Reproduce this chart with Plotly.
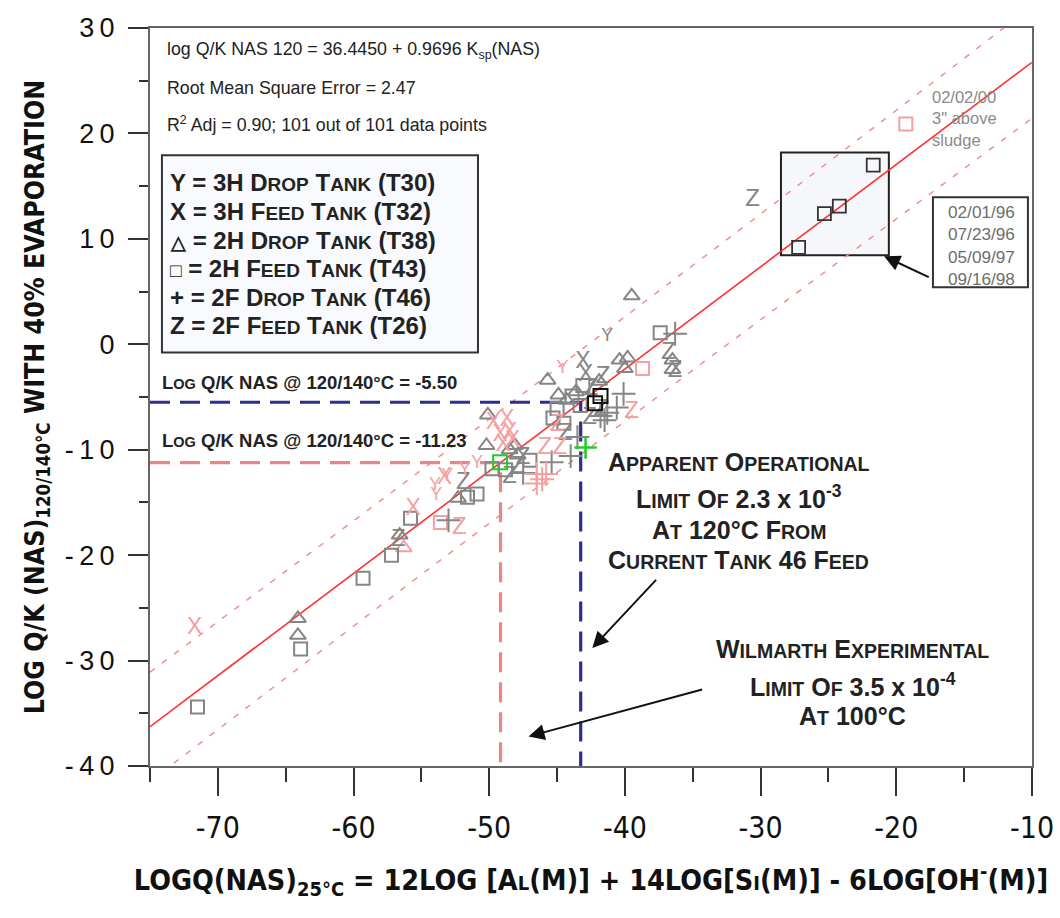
import numpy as np
import plotly.graph_objects as go

# ---------------- regression summary ----------------
fit_intercept = 36.4450
fit_slope = 0.9696
fit_rmse = 2.47
limit_apparent = -5.50     # log Q/K NAS @ 120/140 C, apparent operational limit
limit_wilmarth = -11.23    # log Q/K NAS @ 120/140 C, Wilmarth experimental limit

# ---------------- sample data (x = log Q 25C, y = log Q/K 120/140C) ----------------
# T30 : 3H drop tank  (Y)
t30_grey_x = [-41.3]
t30_grey_y = [0.7]
t30_pink_x = [-54.0, -53.9, -53.1, -50.9, -44.6, -51.8]
t30_pink_y = [-13.4, -14.3, -12.5, -11.3, -2.3, -12.0]

# T32 : 3H feed tank  (X)
t32_grey_x = [-43.1, -42.9]
t32_grey_y = [-1.7, -2.9]
t32_pink_x = [-71.7, -55.6, -53.3, -49.7, -49.2, -48.7, -48.5, -49.0, -48.3]
t32_pink_y = [-26.9, -15.6, -12.7, -7.5, -8.6, -7.2, -8.4, -9.6, -9.2]

# T38 : 2H drop tank  (triangle)
t38_grey_x = [-64.1, -64.1, -56.6, -52.3, -50.1, -50.2, -45.7, -40.4, -39.8, -40.0,
              -39.5, -36.5, -44.3, -47.9, -48.5, -41.9, -43.6, -36.5, -44.9, -48.1]
t38_grey_y = [-26.0, -27.6, -18.1, -14.6, -6.7, -9.6, -3.4, -1.5, -1.3, -2.3,
              4.6, -1.5, -5.3, -10.5, -10.0, -3.5, -4.5, -2.4, -4.8, -9.6]
t38_pink_x = [-56.3]
t38_pink_y = [-19.3]

# T43 : 2H feed tank  (square)
t43_grey_x = [-71.5, -63.9, -59.3, -57.2, -55.8, -51.6, -50.9, -49.8, -48.8, -43.1,
              -37.4, -45.0, -44.5, -43.9, -47.0, -45.3, -43.3]
t43_grey_y = [-34.4, -28.9, -22.2, -20.0, -16.5, -14.5, -14.2, -11.8, -11.9, -3.9,
              1.1, -6.1, -7.5, -4.9, -11.0, -7.0, -5.8]
t43_boxed_x = [-27.2, -25.3, -24.2, -21.7]
t43_boxed_y = [9.2, 12.4, 13.1, 17.0]
t43_black_x = [-41.8, -42.2]
t43_black_y = [-4.9, -5.6]
t43_green_x = [-49.2]
t43_green_y = [-11.2]
t43_pink_x = [-53.6, -38.7, -19.3]
t43_pink_y = [-16.9, -2.3, 20.9]

# T46 : 2F drop tank  (+)
t46_grey_x = [-53.0, -40.1, -36.3, -43.5, -44.0, -45.4, -41.8, -47.5, -40.6, -41.5, -41.3]
t46_grey_y = [-16.7, -4.7, 1.0, -8.8, -10.6, -11.2, -6.8, -12.2, -6.0, -7.2, -6.5]
t46_pink_x = [-46.5, -46.5, -46.1, -45.8]
t46_pink_y = [-12.3, -13.2, -12.8, -12.3]
t46_green_x = [-42.9]
t46_green_y = [-9.8]

# T26 : 2F feed tank  (Z)
t26_grey_x = [-56.7, -51.9, -30.6, -44.4, -42.6, -47.5, -48.5, -41.6, -36.8, -36.3,
              -47.9, -42.5, -41.8]
t26_grey_y = [-18.6, -13.2, 13.7, -8.5, -7.0, -10.8, -12.6, -3.1, -0.8, -2.5,
              -11.6, -4.2, -6.2]
t26_pink_x = [-52.2, -45.0, -44.8, -45.9, -39.5]
t26_pink_y = [-17.4, -7.7, -9.8, -9.8, -6.4]

x_ticks = [-70, -60, -50, -40, -30, -20, -10]
y_ticks = [-40, -30, -20, -10, 0, 10, 20, 30]

# ---------------- styling ----------------
GREY = "#858585"
PINK = "#f4a0a0"
RED = "#ff3030"
BAND = "#f08a8a"
NAVY = "#2e2e8c"
LIMPINK = "#ea8585"
FONT = "Liberation Sans, Arial, sans-serif"
NARROW = "Liberation Sans Narrow, DejaVu Sans Condensed, Arial Narrow, sans-serif"


def sc(word, small):
    """Small-caps rendering: first letter full size, rest as smaller capitals."""
    return word[0] + f"<span style='font-size:{small}px'>{word[1:].upper()}</span>"


fig = go.Figure()

# ---------------- regression line and prediction band ----------------
all_x = np.array(t30_grey_x + t30_pink_x + t32_grey_x + t32_pink_x + t38_grey_x + t38_pink_x
                 + t43_grey_x + t43_boxed_x + t43_black_x + t43_green_x + t43_pink_x
                 + t46_grey_x + t46_pink_x + t46_green_x + t26_grey_x + t26_pink_x)
n = len(all_x)
x_mean = all_x.mean()
sxx = ((all_x - x_mean) ** 2).sum()
xs = np.linspace(-75, -10, 300)
fit = fit_intercept + fit_slope * xs
half = 1.984 * fit_rmse * np.sqrt(1 + 1 / n + (xs - x_mean) ** 2 / sxx)

for sign in (1, -1):
    fig.add_trace(go.Scatter(x=xs, y=fit + sign * half, mode="lines",
                             line=dict(color=BAND, width=1.4, dash="6px,9px"),
                             hoverinfo="skip", showlegend=False))
fig.add_trace(go.Scatter(x=xs, y=fit, mode="lines", line=dict(color=RED, width=1.6),
                         hoverinfo="skip", showlegend=False))

# ---------------- limit guide lines ----------------
x_app = (limit_apparent - fit_intercept) / fit_slope
x_wil = (limit_wilmarth - fit_intercept) / fit_slope
fig.add_trace(go.Scatter(x=[-75, x_wil, x_wil], y=[limit_wilmarth, limit_wilmarth, -40],
                         mode="lines", line=dict(color=LIMPINK, width=3.2, dash="20px,10px"),
                         hoverinfo="skip", showlegend=False))
fig.add_trace(go.Scatter(x=[-75, x_app, x_app], y=[limit_apparent, limit_apparent, -40],
                         mode="lines", line=dict(color=NAVY, width=3.2, dash="20px,10px"),
                         hoverinfo="skip", showlegend=False))


# ---------------- sample markers ----------------
def letters(x, y, ch, color, size=22):
    fig.add_trace(go.Scatter(x=x, y=y, mode="text", text=[ch] * len(x),
                             textposition="middle center",
                             textfont=dict(family=FONT, size=size, color=color),
                             hoverinfo="skip", showlegend=False))


def symbols(x, y, symbol, color, size=12, width=2):
    fig.add_trace(go.Scatter(x=x, y=y, mode="markers",
                             marker=dict(symbol=symbol, size=size, color=color,
                                         line=dict(color=color, width=width)),
                             hoverinfo="skip", showlegend=False))


# highlighted region around the four boxed samples
fig.add_shape(type="rect", x0=-28.5, x1=-20.55, y0=8.45, y1=18.2,
              line=dict(color="#222", width=2), fillcolor="#f5f7fb", layer="below")

symbols(t38_grey_x, t38_grey_y, "triangle-up-open", GREY, 14)
symbols(t38_pink_x, t38_pink_y, "triangle-up-open", PINK, 14)
symbols(t43_grey_x, t43_grey_y, "square-open", GREY, 13)
symbols(t43_pink_x, t43_pink_y, "square-open", PINK, 13)
symbols(t46_grey_x, t46_grey_y, "cross-thin-open", GREY, 17)
symbols(t46_pink_x, t46_pink_y, "cross-thin-open", PINK, 17)
letters(t26_grey_x, t26_grey_y, "Z", GREY, 24)
letters(t26_pink_x, t26_pink_y, "Z", PINK, 24)
letters(t32_grey_x, t32_grey_y, "X", GREY, 23)
letters(t32_pink_x, t32_pink_y, "X", PINK, 23)
letters(t30_grey_x, t30_grey_y, "Y", GREY, 18)
letters(t30_pink_x, t30_pink_y, "Y", PINK, 18)

symbols(t43_boxed_x, t43_boxed_y, "square-open", "#333", 13, 1.8)
symbols(t43_black_x, t43_black_y, "square-open", "#111", 14, 2)
symbols(t43_green_x, t43_green_y, "square-open", "#22cc22", 14, 2)
symbols(t46_green_x, t46_green_y, "cross-thin-open", "#22cc22", 16, 2.5)

# legend box
fig.add_shape(type="rect", x0=-74.12, x1=-50.83, y0=-0.77, y1=17.94,
              line=dict(color="#333", width=2), fillcolor="#f8fafd", layer="below")
# date box
fig.add_shape(type="rect", x0=-17.3, x1=-10.3, y0=5.4, y1=13.95,
              line=dict(color="#333", width=2), fillcolor="white", layer="below")

ann = []


def text(x, y, s, size, color="#222", family=FONT, xanchor="left", align="left", bold=False):
    if bold:
        s = f"<b>{s}</b>"
    ann.append(dict(x=x, y=y, xref="x", yref="y", text=s, showarrow=False,
                    xanchor=xanchor, yanchor="middle", align=align,
                    font=dict(family=family, size=size, color=color)))


def arrow(x0, y0, x1, y1):
    ann.append(dict(x=x1, y=y1, ax=x0, ay=y0, xref="x", yref="y", axref="x", ayref="y",
                    text="", showarrow=True, arrowhead=2, arrowsize=1.6, arrowwidth=2,
                    arrowcolor="#111"))


# regression statistics
text(-73.9, 27.9, "log Q/K NAS 120 = 36.4450 + 0.9696 K<sub>sp</sub>(NAS)", 17.8)
text(-73.9, 24.3, "Root Mean Square Error = 2.47", 17.8)
text(-73.9, 20.9, "R<sup>2</sup> Adj = 0.90; 101 out of 101 data points", 17.8)

# legend entries
B, S = 24, 19
legend_lines = [
    "Y = 3H " + sc("Drop", S) + " " + sc("Tank", S) + " (T30)",
    "X = 3H " + sc("Feed", S) + " " + sc("Tank", S) + " (T32)",
    f"<span style='font-size:{S}px'>△</span> = 2H " + sc("Drop", S) + " " + sc("Tank", S) + " (T38)",
    f"<span style='font-size:{S}px'>□</span> = 2H " + sc("Feed", S) + " " + sc("Tank", S) + " (T43)",
    "+ = 2F " + sc("Drop", S) + " " + sc("Tank", S) + " (T46)",
    "Z = 2F " + sc("Feed", S) + " " + sc("Tank", S) + " (T26)",
]
for i, line in enumerate(legend_lines):
    text(-73.7, 15.3 - i * 2.71, line, B, bold=True)

# limit labels
text(-74.3, -3.6, sc("Log", 14.5) + " Q/K NAS @ 120/140°C = -5.50", 18.5, bold=True)
text(-74.3, -9.1, sc("Log", 14.5) + " Q/K NAS @ 120/140°C = -11.23", 18.5, bold=True)

# callouts
A, s2 = 25, 19.5
cx1 = -31.6
text(cx1, -11.2, sc("Apparent", s2) + " " + sc("Operational", s2), A, xanchor="center", bold=True)
text(cx1, -14.5, sc("Limit", s2) + f" O<span style='font-size:{s2}px'>F</span> 2.3 x 10<sup>-3</sup>", A,
     xanchor="center", bold=True)
text(cx1, -17.6, sc("At", s2) + " 120°C " + sc("From", s2), A, xanchor="center", bold=True)
text(cx1, -20.5, sc("Current", s2) + " " + sc("Tank", s2) + " 46 " + sc("Feed", s2), A,
     xanchor="center", bold=True)
arrow(-37.6, -22.2, -42.4, -28.8)

cx2 = -23.2
text(cx2, -28.9, sc("Wilmarth", s2) + " " + sc("Experimental", s2), A, xanchor="center", bold=True)
text(cx2, -32.3, sc("Limit", s2) + f" O<span style='font-size:{s2}px'>F</span> 3.5 x 10<sup>-4</sup>", A,
     xanchor="center", bold=True)
text(cx2, -35.3, sc("At", s2) + " 100°C", A, xanchor="center", bold=True)
arrow(-34.2, -32.7, -47.1, -37.2)

# annotations near the boxed samples
text(-17.5, 21.45, "02/02/00<br>3\" above<br>sludge", 16.5, color="#8a8a8a")
text(-13.75, 9.35, "02/01/96<br>07/23/96<br>05/09/97<br>09/16/98", 17.2, color="#6e6e6e",
     xanchor="center", align="center")
arrow(-17.5, 6.3, -20.9, 8.35)

fig.update_layout(
    width=1060, height=918,
    margin=dict(l=150, r=28, t=28, b=152, autoexpand=False),
    paper_bgcolor="white", plot_bgcolor="white",
    showlegend=False,
    annotations=ann,
    xaxis=dict(range=[-75, -10], tickvals=x_ticks, ticktext=[str(v) for v in x_ticks],
               ticks="outside", ticklen=28, tickwidth=1.5, tickcolor="#333",
               minor=dict(ticks="outside", ticklen=14, tickwidth=1.5, tickcolor="#333",
                          tickvals=[-75, -65, -55, -45, -35, -25, -15]),
               showline=True, mirror=True, linecolor="#666", linewidth=2,
               showgrid=False, zeroline=False, ticklabelstandoff=6, automargin=False,
               tickfont=dict(family=NARROW, size=30, color="#111"),
               title=dict(text="<b>LOGQ(NAS)<sub>25°C</sub> = 12LOG [A<span style='font-size:20px'>L</span>(M)]"
                               " + 14LOG[S<span style='font-size:20px'>I</span>(M)] - 6LOG[OH<sup>-</sup>(M)]</b>",
                          font=dict(family=NARROW, size=28.5, color="#111"), standoff=26)),
    yaxis=dict(range=[-40, 30], tickvals=y_ticks,
               ticktext=["\u2009".join(str(v)) for v in y_ticks],
               ticks="outside", ticklen=20, tickwidth=1.5, tickcolor="#333",
               minor=dict(ticks="outside", ticklen=9, tickwidth=1.5, tickcolor="#333",
                          tickvals=[-35, -25, -15, -5, 5, 15, 25]),
               showline=True, mirror=True, linecolor="#666", linewidth=2,
               showgrid=False, zeroline=False, ticklabelstandoff=8, automargin=False,
               tickfont=dict(family=FONT, size=27, color="#111"),
               title=dict(text="<b>LOG Q/K (NAS)<sub>120/140°C</sub> WITH 40% EVAPORATION</b>",
                          font=dict(family=NARROW, size=26.5, color="#111"), standoff=12)),
)

fig.write_html("out.html")
